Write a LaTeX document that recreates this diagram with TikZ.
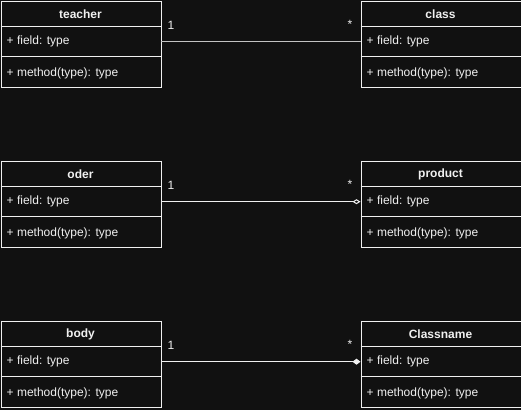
\documentclass[tikz,border=0pt]{standalone}
\usepackage{fontspec}
\setmainfont{Liberation Sans}
\usetikzlibrary{arrows.meta}
\definecolor{bg}{HTML}{111111}
\definecolor{fg}{HTML}{F0F0F0}
\tikzset{
  classbox/.style={draw=fg, line width=1pt, fill=bg, minimum width=160pt, minimum height=86pt, anchor=north west, inner sep=0pt},
  headtxt/.style={text=fg, font=\fontsize{12}{14}\selectfont\bfseries, anchor=center},
  rowtxt/.style={text=fg, font=\fontsize{12}{14}\selectfont, anchor=west, inner sep=0pt},
  fieldrow/.style={minimum width=160pt, minimum height=30pt, anchor=north west, inner sep=0pt},
  conn/.style={draw=fg, line width=1pt},
  mult/.style={text=fg, font=\fontsize{12}{14}\selectfont, inner sep=0pt}
}
\newcommand{\umlclass}[4]{%
  \node[classbox] (#1) at (#2,#3) {};
  \draw[fg, line width=1pt] (#2,#3+26) -- ++(160,0);
  \draw[fg, line width=1pt] (#2,#3+56) -- ++(160,0);
  \node[headtxt] (#1H) at (#2+80,#3+14) {#4};
  \node[fieldrow] (#1F) at (#2,#3+26) {};
  \node[rowtxt] (#1FT) at (#2+6,#3+41) {+ field: type};
  \node[rowtxt] (#1MT) at (#2+6,#3+73) {+ method(type): type};
}
\begin{document}
\begin{tikzpicture}[x=1pt,y=-1pt]
\fill[bg] (0,0) rectangle (521,410);
\useasboundingbox (0,0) rectangle (521,410);
\umlclass{teacher}{0.5}{0.5}{teacher}
\umlclass{class}{360.5}{0.5}{class}
\umlclass{oder}{0.5}{160.5}{oder}
\umlclass{product}{360.5}{160.5}{product}
\umlclass{body}{0.5}{320.5}{body}
\umlclass{classname}{360.5}{320.5}{Classname}
\draw[conn, draw=fg!80!bg] (teacherF.east) -- (classF.west);
\draw[conn, -{Diamond[open, length=8pt, width=5pt, line width=1pt]}] (oderF.east) -- (productF.west);
\draw[conn, -{Diamond[length=8pt, width=6pt]}] (bodyF.east) -- (classnameF.west);
\node[mult] (m1a) at (171,25) {1};
\node[mult] (m1b) at (350,24) {*};
\node[mult] (m2a) at (171,185) {1};
\node[mult] (m2b) at (350,184) {*};
\node[mult] (m3a) at (171,345) {1};
\node[mult] (m3b) at (350,344) {*};
\end{tikzpicture}
\end{document}
